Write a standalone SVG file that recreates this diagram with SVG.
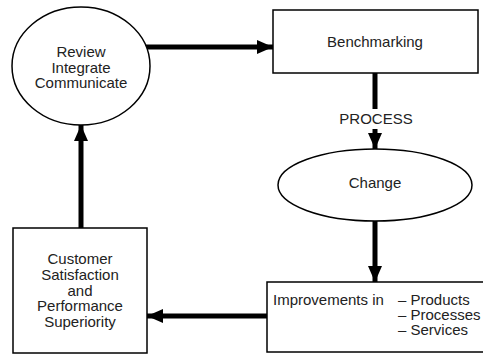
<svg xmlns="http://www.w3.org/2000/svg" width="483" height="354" viewBox="0 0 483 354">
<defs>
<style>
.shape{fill:#fff;stroke:#000;stroke-width:1.5}
.t{font-family:"Liberation Sans",Arial,sans-serif;font-size:15px;fill:#222;text-anchor:middle}
.tl{font-family:"Liberation Sans",Arial,sans-serif;font-size:15px;fill:#222}
.c{stroke:#000;stroke-width:5;fill:none}
</style>
<marker id="ah" markerUnits="userSpaceOnUse" markerWidth="16" markerHeight="16" viewBox="0 0 16 16" refX="16" refY="8" orient="auto">
<path d="M0,1 L16,8 L0,15 Z" fill="#000"/>
</marker>
</defs>
<rect width="483" height="354" fill="#fff"/>
<g id="connectors">
<line class="c" x1="143" y1="47" x2="273" y2="47" marker-end="url(#ah)"/>
<line class="c" x1="375" y1="73" x2="375" y2="109"/>
<line class="c" x1="375" y1="129" x2="375" y2="149" marker-end="url(#ah)"/>
<line class="c" x1="375" y1="221" x2="375" y2="282" marker-end="url(#ah)"/>
<line class="c" x1="267" y1="316" x2="147" y2="316" marker-end="url(#ah)"/>
<line class="c" x1="81" y1="228" x2="81" y2="125" marker-end="url(#ah)"/>
</g>
<g id="review">
<ellipse class="shape" cx="81" cy="66" rx="69" ry="59"/>
<text class="t" x="81" y="57">Review</text>
<text class="t" x="81" y="72.5">Integrate</text>
<text class="t" x="81" y="88">Communicate</text>
</g>
<g id="benchmarking">
<rect class="shape" x="273" y="10" width="205" height="63"/>
<text class="t" x="375" y="47">Benchmarking</text>
</g>
<g id="process-label">
<text class="t" x="376" y="124">PROCESS</text>
</g>
<g id="change">
<ellipse class="shape" cx="375" cy="185" rx="97" ry="36"/>
<text class="t" x="375" y="188">Change</text>
</g>
<g id="improvements">
<rect class="shape" x="267" y="282" width="230" height="70"/>
<text class="tl" x="273" y="305">Improvements in</text>
<text class="tl" x="398" y="305">– Products</text>
<text class="tl" x="398" y="320">– Processes</text>
<text class="tl" x="398" y="335">– Services</text>
</g>
<g id="customer">
<rect class="shape" x="13" y="228" width="134" height="125"/>
<text class="t" x="80" y="264">Customer</text>
<text class="t" x="80" y="280">Satisfaction</text>
<text class="t" x="80" y="295.5">and</text>
<text class="t" x="80" y="311">Performance</text>
<text class="t" x="80" y="326.5">Superiority</text>
</g>
</svg>
